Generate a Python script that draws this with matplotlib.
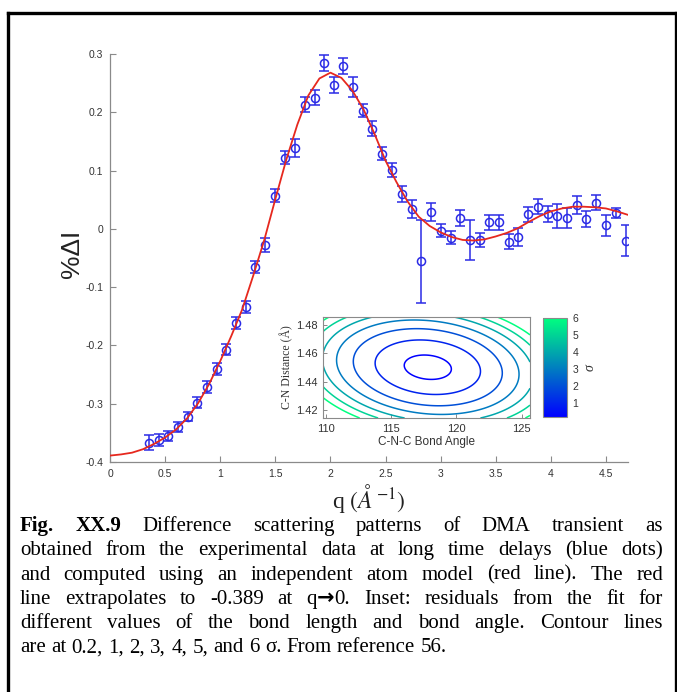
import numpy as np
import matplotlib
matplotlib.use("Agg")
import matplotlib.pyplot as plt
from matplotlib import cm, colors

# ---- scattering data (blue points with error bars) ----
q_data = [0.354, 0.441, 0.529, 0.617, 0.704, 0.792, 0.879, 0.967, 1.055, 1.142,
          1.230, 1.317, 1.410, 1.500, 1.590, 1.680, 1.765, 1.856, 1.943, 2.030,
          2.118, 2.203, 2.294, 2.380, 2.470, 2.560, 2.650, 2.738, 2.826, 2.916,
          3.004, 3.090, 3.180, 3.266, 3.355, 3.440, 3.530, 3.617, 3.705, 3.796,
          3.880, 3.970, 4.060, 4.150, 4.237, 4.320, 4.410, 4.500, 4.590, 4.680]
dI_data = [-0.367, -0.362, -0.355, -0.340, -0.322, -0.298, -0.271, -0.241, -0.207, -0.161,
           -0.134, -0.065, -0.028, 0.057, 0.122, 0.139, 0.213, 0.225, 0.284, 0.247,
           0.279, 0.243, 0.203, 0.172, 0.129, 0.101, 0.060, 0.034, -0.056, 0.029,
           -0.003, -0.015, 0.019, -0.019, -0.019, 0.011, 0.011, -0.022, -0.014, 0.025,
           0.038, 0.025, 0.022, 0.019, 0.041, 0.017, 0.045, 0.006, 0.027, -0.020]
dI_err = [0.013, 0.010, 0.009, 0.008, 0.008, 0.009, 0.010, 0.010, 0.010, 0.010,
          0.010, 0.010, 0.012, 0.011, 0.011, 0.016, 0.013, 0.013, 0.014, 0.014,
          0.014, 0.017, 0.011, 0.013, 0.011, 0.012, 0.014, 0.015, 0.071, 0.016,
          0.011, 0.011, 0.014, 0.035, 0.012, 0.013, 0.013, 0.013, 0.015, 0.013,
          0.013, 0.014, 0.021, 0.017, 0.015, 0.013, 0.013, 0.018, 0.008, 0.027]

# ---- independent atom model (red line) ----
q_fit = [0.0, 0.1, 0.2, 0.3, 0.4, 0.5, 0.6, 0.7, 0.8, 0.9,
         1.0, 1.1, 1.2, 1.3, 1.4, 1.5, 1.6, 1.7, 1.8, 1.9,
         2.0, 2.1, 2.2, 2.3, 2.4, 2.5, 2.6, 2.7, 2.8, 2.9,
         3.0, 3.1, 3.2, 3.3, 3.4, 3.5, 3.6, 3.7, 3.8, 3.9,
         4.0, 4.1, 4.2, 4.3, 4.4, 4.5, 4.6, 4.7]
dI_fit = [-0.389, -0.387, -0.384, -0.378, -0.369, -0.358, -0.344, -0.325, -0.299, -0.266,
          -0.227, -0.184, -0.138, -0.080, -0.019, 0.051, 0.119, 0.179, 0.229, 0.258,
          0.268, 0.259, 0.237, 0.205, 0.163, 0.117, 0.080, 0.047, 0.021, 0.005,
          -0.006, -0.014, -0.019, -0.020, -0.018, -0.013, -0.007, 0.001, 0.012, 0.022,
          0.030, 0.035, 0.038, 0.038, 0.037, 0.035, 0.030, 0.024]

x_ticks = [0, 0.5, 1, 1.5, 2, 2.5, 3, 3.5, 4, 4.5]
x_tick_labels = ["0", "0.5", "1", "1.5", "2", "2.5", "3", "3.5", "4", "4.5"]
y_ticks = [-0.4, -0.3, -0.2, -0.1, 0, 0.1, 0.2, 0.3]
y_tick_labels = ["-0.4", "-0.3", "-0.2", "-0.1", "0", "0.1", "0.2", "0.3"]

# ---- inset: residual surface vs bond angle / bond length ----
angle_best = 117.8      # deg
dist_best = 1.4502      # Angstrom
angle_width = 4.0       # deg at 1 sigma
dist_width = 0.019      # Angstrom at 1 sigma
coupling = 0.15
sigma_levels = [0.2, 1, 2, 3, 4, 5, 6]
inset_x_ticks = [110, 115, 120, 125]
inset_y_ticks = [1.42, 1.44, 1.46, 1.48]
cbar_ticks = [1, 2, 3, 4, 5, 6]

caption_lines = [
    [[("Fig.", "bold")], [("XX.9", "bold")], [("Difference", "normal")], [("scattering", "normal")],
     [("patterns", "normal")], [("of", "normal")], [("DMA", "normal")], [("transient", "normal")],
     [("as", "normal")]],
    "obtained from the experimental data at long time delays (blue dots)",
    "and computed using an independent atom model (red line). The red",
    [[("line", "normal")], [("extrapolates", "normal")], [("to", "normal")], [("-0.389", "normal")],
     [("at", "normal")], [("q", "normal"), ("\u2192", "arrow"), ("0.", "normal")],
     [("Inset:", "normal")], [("residuals", "normal")], [("from", "normal")], [("the", "normal")],
     [("fit", "normal")], [("for", "normal")]],
    "different values of the bond length and bond angle. Contour lines",
    "are at 0.2, 1, 2, 3, 4, 5, and 6 \u03c3. From reference 56.",
]

W, H = 677, 692
plt.rcParams["font.family"] = ["Liberation Sans", "DejaVu Sans"]
plt.rcParams["mathtext.fontset"] = "stix"

fig = plt.figure(figsize=(W / 100, H / 100), dpi=100)


def fx(px):
    return px / W


def fy(py):
    return 1 - py / H


# outer frame
frame_kw = dict(color="black", lw=2.4, transform=fig.transFigure, clip_on=False)
fig.add_artist(plt.Line2D([fx(8), fx(8)], [fy(13), 0], **frame_kw))
fig.add_artist(plt.Line2D([fx(8), 1], [fy(13), fy(13)], **frame_kw))
fig.add_artist(plt.Line2D([fx(676), fx(676)], [fy(13), 0], **frame_kw))

# ---- main axes ----
ax = fig.add_axes([fx(110), fy(462), fx(628) - fx(110), fy(54) - fy(462)])
ax.errorbar(q_data, dI_data, yerr=dI_err, fmt="o", color="#2b2be6", ms=5.8,
            mfc="none", mec="#2b2be6", mew=1.1, elinewidth=1.1, capsize=3.6,
            capthick=1.1, zorder=2)
ax.plot(q_fit, dI_fit, color="#e6281e", lw=1.3, zorder=3)

ax.set_xlim(0, 4.7)
ax.set_ylim(-0.4, 0.3)
ax.set_xticks(x_ticks)
ax.set_xticklabels(x_tick_labels)
ax.set_yticks(y_ticks)
ax.set_yticklabels(y_tick_labels)
for s in ("top", "right"):
    ax.spines[s].set_visible(False)
for s in ("left", "bottom"):
    ax.spines[s].set_color("#8a8a8a")
    ax.spines[s].set_linewidth(0.9)
ax.tick_params(direction="in", length=4, width=0.8, color="#8a8a8a",
               labelcolor="#333333", labelsize=7.5, pad=5)

ax.set_xlabel(r"q $(\AA^{-1})$", fontsize=17, family="Liberation Serif", color="#222222")
ax.xaxis.set_label_coords(0.5, -0.05)
ax.set_ylabel("%\u0394I", fontsize=19, color="#222222")
ax.yaxis.set_label_coords(-0.05, 0.51)

# ---- inset contour plot ----
iax = fig.add_axes([fx(323), fy(418), fx(530) - fx(323), fy(317) - fy(418)])
ang = np.linspace(109.75, 125.65, 240)
dist = np.linspace(1.4144, 1.4856, 240)
A, D = np.meshgrid(ang, dist)
u = (A - angle_best) / angle_width
v = (D - dist_best) / dist_width
sig = u ** 2 + v ** 2 + 2 * coupling * u * v
norm = colors.Normalize(vmin=0.2, vmax=6)
iax.contour(A, D, sig, levels=sigma_levels, cmap="winter", norm=norm, linewidths=1.1)
iax.set_xlim(109.75, 125.65)
iax.set_ylim(1.4144, 1.4856)
iax.set_xticks(inset_x_ticks)
iax.set_yticks(inset_y_ticks)
iax.set_yticklabels([f"{t:.2f}" for t in inset_y_ticks])
for s in iax.spines.values():
    s.set_color("#8a8a8a")
    s.set_linewidth(0.8)
iax.tick_params(direction="in", length=3, width=0.7, color="#8a8a8a",
                labelcolor="#333333", labelsize=8, pad=4)
iax.set_xlabel("C-N-C Bond Angle", fontsize=8.5, color="#333333", labelpad=2)
iax.set_ylabel("C-N Distance (\u00c5)", fontsize=8.5, family="Liberation Serif",
               color="#333333", labelpad=2)

cax = fig.add_axes([fx(543), fy(417), fx(567) - fx(543), fy(318) - fy(417)])
cb = fig.colorbar(cm.ScalarMappable(norm=norm, cmap="winter"), cax=cax, ticks=cbar_ticks)
cb.outline.set_edgecolor("#8a8a8a")
cb.outline.set_linewidth(0.8)
cax.tick_params(direction="in", length=0, labelsize=7.5, labelcolor="#333333", pad=4)
cb.set_label("\u03c3", fontsize=10, family="Liberation Serif", style="italic",
             color="#333333", labelpad=4)

# ---- caption with justified lines ----
fig.canvas.draw()
renderer = fig.canvas.get_renderer()
cap_fs = 15.0
cap_left, cap_right = 20, 663
first_base, line_step = 531, 24.3


def piece_kwargs(kind):
    if kind == "arrow":
        return dict(family=["DejaVu Sans"], weight="bold")
    return dict(family=["Liberation Serif", "DejaVu Serif"], weight=kind)


def text_width(s, kind):
    t = fig.text(0, 0, s, fontsize=cap_fs, **piece_kwargs(kind))
    w = t.get_window_extent(renderer).width
    t.remove()
    return w


space_w = text_width("a a", "normal") - text_width("aa", "normal")

for i, line in enumerate(caption_lines):
    if isinstance(line, str):
        words = [[(w, "normal")] for w in line.split()]
    else:
        words = line
    widths = [sum(text_width(s, k) for s, k in word) for word in words]
    justify = i < len(caption_lines) - 1
    if justify and len(words) > 1:
        gap = (cap_right - cap_left - sum(widths)) / (len(words) - 1)
    else:
        gap = space_w
    x = cap_left
    base = first_base + i * line_step
    for word, wd in zip(words, widths):
        xx = x
        for s, k in word:
            fig.text(fx(xx), fy(base), s, fontsize=cap_fs, va="baseline", ha="left",
                     color="black", **piece_kwargs(k))
            xx += text_width(s, k)
        x += wd + gap

fig.savefig("out.png", dpi=100)
